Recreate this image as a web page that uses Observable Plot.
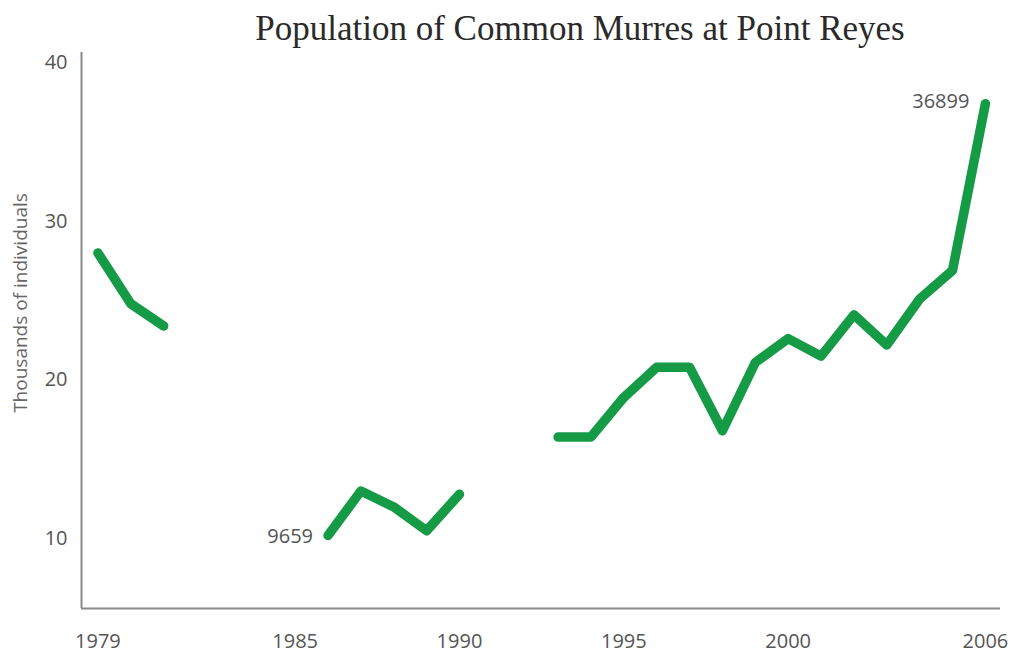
<!DOCTYPE html>
<html>
<head>
<meta charset="utf-8">
<script src="https://cdn.jsdelivr.net/npm/d3@7"></script>
<script src="https://cdn.jsdelivr.net/npm/@observablehq/plot@0.6"></script>
<style>
  body { margin: 0; background: #fff; width: 1010px; height: 653px; overflow: hidden; }
  #title { height: 44px; font-family: "Liberation Serif", "DejaVu Serif", serif; font-size: 35px; color: #2a2a2a;
           text-align: center; padding-left: 150px; line-height: 58px; box-sizing: border-box; white-space: nowrap; }
  #chart svg { display: block; }
  #chart svg text { font-size: 20px !important; font-family: "Open Sans", "Noto Sans", sans-serif !important; }
  #chart svg text.ytitle { font-size: 19px !important; }
</style>
</head>
<body>
<div id="title">Population of Common Murres at Point Reyes</div>
<div id="chart"></div>
<script>
const years = [1979,1980,1981,1982,1983,1984,1985,1986,1987,1988,1989,1990,1991,1992,1993,1994,1995,1996,1997,1998,1999,2000,2001,2002,2003,2004,2005,2006];
const thousands = [28.0,24.8,23.4,null,null,null,null,10.2,13.0,12.0,10.5,12.8,null,null,16.4,16.4,18.9,20.8,20.8,16.8,21.1,22.6,21.5,24.1,22.2,25.1,26.9,37.4];
const xTicks = [1979,1985,1990,1995,2000,2006];
const yTicks = [10,20,30,40];
const xDomain = [1978.5, 2006.46];
const yDomain = [5.6, 40.63];
const labelYears = [1986, 2006];
const labelTexts = ["9659", "36899"];

const data = years.map((y, i) => ({year: y, value: thousands[i] == null ? NaN : thousands[i]}));
const labels = labelYears.map((y, i) => ({year: y, value: thousands[years.indexOf(y)], text: labelTexts[i]}));

const chart = Plot.plot({
  width: 1010,
  height: 609,
  marginLeft: 81,
  marginRight: 10,
  marginTop: 8,
  marginBottom: 45,
  style: {fontFamily: "'Open Sans', 'Noto Sans', sans-serif", fontSize: "20px", color: "#555", background: "#fff"},
  x: {domain: xDomain, ticks: xTicks, tickFormat: d => String(d), label: null},
  y: {domain: yDomain, ticks: yTicks, label: null},
  marks: [
    Plot.axisX({ticks: xTicks, tickFormat: d => String(d), tickSize: 0, tickPadding: 25, label: null, fill: "#555"}),
    Plot.axisY({ticks: yTicks, tickSize: 0, tickPadding: 14, label: null, fill: "#555"}),
    Plot.ruleX([xDomain[0]], {stroke: "#8a8a8a", strokeWidth: 2}),
    Plot.ruleY([yDomain[0]], {stroke: "#8a8a8a", strokeWidth: 2}),
    Plot.line(data, {x: "year", y: "value", stroke: "#159a45", strokeWidth: 9.5, strokeLinecap: "round", strokeLinejoin: "round"}),
    Plot.text(labels, {x: "year", y: "value", text: "text", textAnchor: "end", dx: -15, dy: 1, fill: "#555",
      filter: d => d.year === 1986}),
    Plot.text(labels, {x: "year", y: "value", text: "text", textAnchor: "end", dx: -16, dy: -2, fill: "#555",
      filter: d => d.year === 2006})
  ]
});

// rotated y-axis title
const svg = d3.select(chart);
svg.append("text")
  .attr("class", "ytitle")
  .attr("transform", "translate(22," + (303 - 44) + ") rotate(-90)")
  .attr("text-anchor", "middle")
  .attr("dominant-baseline", "middle")
  .attr("fill", "#666")
  .text("Thousands of individuals");

document.getElementById("chart").appendChild(chart);
</script>
</body>
</html>
